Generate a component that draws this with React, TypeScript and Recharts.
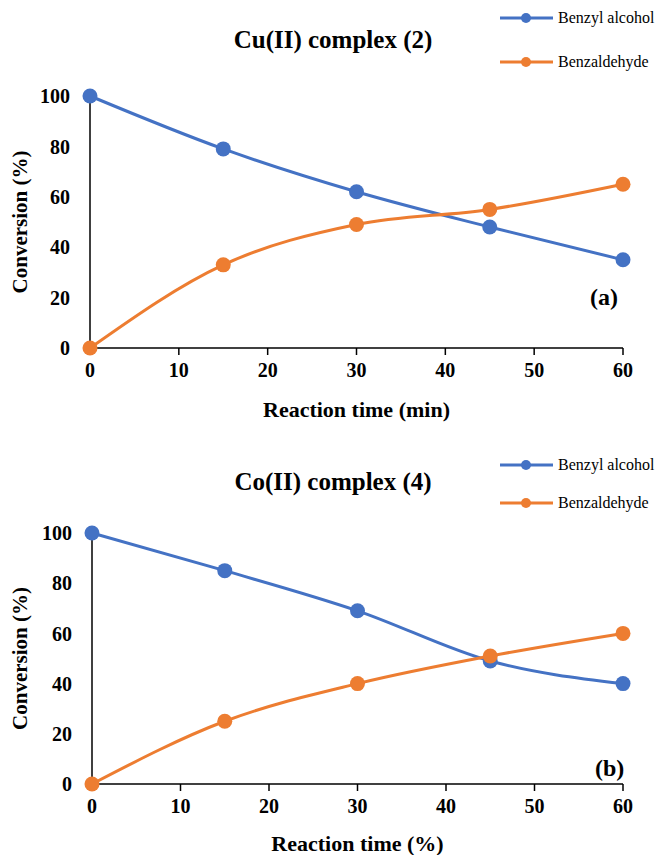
import { LineChart, Line, XAxis, YAxis } from 'recharts';

const times = [0, 15, 30, 45, 60];
const cuAlcohol = [100, 79, 62, 48, 35];
const cuAldehyde = [0, 33, 49, 55, 65];
const coAlcohol = [100, 85, 69, 49, 40];
const coAldehyde = [0, 25, 40, 51, 60];
const xTicks = [0, 10, 20, 30, 40, 50, 60];
const yTicks = [0, 20, 40, 60, 80, 100];
const seriesNames = ['Benzyl alcohol', 'Benzaldehyde'];
const seriesColors = ['#4472C4', '#ED7D31'];

const FONT = '"Liberation Serif", "Times New Roman", serif';

const buildRows = (alcohol: number[], aldehyde: number[]) =>
  times.map((t, i) => ({ time: t, alcohol: alcohol[i], aldehyde: aldehyde[i] }));

// legend drawn as a small overlay so it doesn't eat into the plot area
const LegendBox = ({ top, gap }: { top: number; gap: number }) => (
  <div style={{ position: 'absolute', top, left: 500, fontFamily: FONT, fontSize: 16, color: '#000' }}>
    {seriesNames.map((name, i) => (
      <div key={name} style={{ display: 'flex', alignItems: 'center', height: 20, marginBottom: i === 0 ? gap : 0 }}>
        <svg width={56} height={14}>
          <line x1={0} y1={7} x2={53} y2={7} stroke={seriesColors[i]} strokeWidth={3} />
          <circle cx={26} cy={7} r={5} fill={seriesColors[i]} />
        </svg>
        <span style={{ marginLeft: 2, whiteSpace: 'nowrap' }}>{name}</span>
      </div>
    ))}
  </div>
);

interface PanelProps {
  top: number;
  height: number;
  plotTop: number;
  plotLeft: number;
  bottomMargin: number;
  title: string;
  titleY: number;
  tag: string;
  tagX: number;
  tagY: number;
  xLabel: string;
  xLabelOffset: number;
  legendTop: number;
  legendGap: number;
  alcohol: number[];
  aldehyde: number[];
}

const Panel = (p: PanelProps) => {
  const rows = buildRows(p.alcohol, p.aldehyde);
  const tickStyle = { fill: '#000', fontSize: 20, fontWeight: 'bold', fontFamily: FONT };
  return (
    <div style={{ position: 'absolute', top: p.top, left: 0, width: 660, height: p.height }}>
      <div
        style={{
          position: 'absolute', top: p.titleY, left: 0, width: 666, textAlign: 'center',
          fontFamily: FONT, fontWeight: 'bold', fontSize: 25, lineHeight: '28px', color: '#000',
        }}
      >
        {p.title}
      </div>
      <LegendBox top={p.legendTop} gap={p.legendGap} />
      <LineChart
        width={660}
        height={p.height}
        data={rows}
        margin={{ top: p.plotTop, right: 37, bottom: p.bottomMargin, left: 0 }}
      >
        <XAxis
          dataKey="time"
          type="number"
          domain={[0, 60]}
          ticks={xTicks}
          height={30}
          tick={tickStyle}
          tickSize={7}
          tickMargin={8}
          axisLine={{ stroke: '#000', strokeWidth: 1.5 }}
          tickLine={{ stroke: '#000', strokeWidth: 1.5 }}
          label={{
            value: p.xLabel, position: 'bottom', offset: p.xLabelOffset,
            style: { fill: '#000', fontSize: 22, fontWeight: 'bold', fontFamily: FONT },
          }}
        />
        <YAxis
          type="number"
          domain={[0, 100]}
          ticks={yTicks}
          width={p.plotLeft}
          tick={tickStyle}
          tickLine={false}
          tickSize={0}
          tickMargin={20}
          axisLine={{ stroke: '#000', strokeWidth: 1.5 }}
          label={{
            value: 'Conversion (%)', angle: -90, position: 'insideLeft', offset: 20,
            style: { textAnchor: 'middle', fill: '#000', fontSize: 21, fontWeight: 'bold', fontFamily: FONT },
          }}
        />
        <Line
          type="monotone"
          dataKey="alcohol"
          name={seriesNames[0]}
          stroke={seriesColors[0]}
          strokeWidth={3}
          dot={{ r: 7.5, fill: seriesColors[0], stroke: seriesColors[0], strokeWidth: 0 }}
          isAnimationActive={false}
        />
        <Line
          type="monotone"
          dataKey="aldehyde"
          name={seriesNames[1]}
          stroke={seriesColors[1]}
          strokeWidth={3}
          dot={{ r: 7.5, fill: seriesColors[1], stroke: seriesColors[1], strokeWidth: 0 }}
          isAnimationActive={false}
        />
      </LineChart>
      <div
        style={{
          position: 'absolute', top: p.tagY, left: p.tagX, fontFamily: FONT, fontWeight: 'bold',
          fontSize: 24, lineHeight: '26px', color: '#000',
        }}
      >
        {p.tag}
      </div>
    </div>
  );
};

export default function App() {
  return (
    <div style={{ position: 'absolute', top: 0, left: 0, width: 660, height: 855, background: '#fff', overflow: 'hidden' }}>
      <Panel
        top={0}
        height={430}
        plotTop={96}
        plotLeft={90}
        bottomMargin={52}
        title="Cu(II) complex (2)"
        titleY={26}
        tag="(a)"
        tagX={590}
        tagY={284}
        xLabel="Reaction time (min)"
        xLabelOffset={23}
        legendTop={8}
        legendGap={24}
        alcohol={cuAlcohol}
        aldehyde={cuAldehyde}
      />
      <Panel
        top={430}
        height={425}
        plotTop={103}
        plotLeft={92}
        bottomMargin={41}
        title="Co(II) complex (4)"
        titleY={38}
        tag="(b)"
        tagX={595}
        tagY={325}
        xLabel="Reaction time (%)"
        xLabelOffset={21}
        legendTop={25}
        legendGap={18}
        alcohol={coAlcohol}
        aldehyde={coAldehyde}
      />
    </div>
  );
}
